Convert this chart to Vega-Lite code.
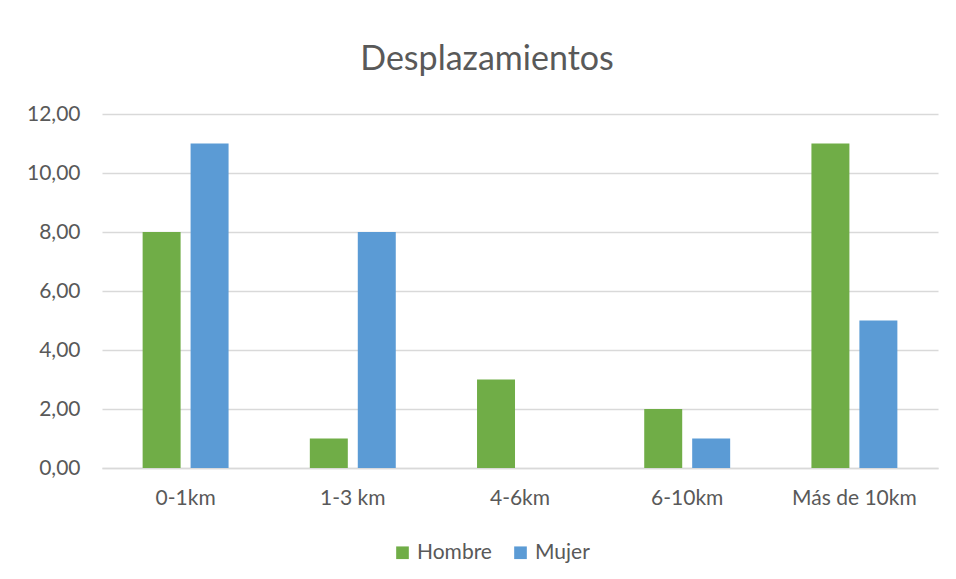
{
  "$schema": "https://vega.github.io/schema/vega-lite/v6.json",
  "width": 836,
  "height": 354,
  "autosize": {"type": "none"},
  "padding": {"left": 102, "top": 114, "right": 18, "bottom": 111},
  "background": "white",
  "config": {
    "locale": {"number": {"decimal": ",", "thousands": ".", "grouping": [3], "currency": ["", " €"]}},
    "font": "Lato",
    "view": {"stroke": null}
  },
  "title": {
    "text": "Desplazamientos",
    "fontSize": 34,
    "font": "Lato",
    "fontWeight": "normal",
    "color": "#595959",
    "anchor": "middle",
    "frame": "group",
    "dx": -33,
    "offset": 26
  },
  "data": {
    "values": [
      {"cat": "0-1km", "serie": "Hombre", "valor": 8},
      {"cat": "0-1km", "serie": "Mujer", "valor": 11},
      {"cat": "1-3 km", "serie": "Hombre", "valor": 1},
      {"cat": "1-3 km", "serie": "Mujer", "valor": 8},
      {"cat": "4-6km", "serie": "Hombre", "valor": 3},
      {"cat": "4-6km", "serie": "Mujer", "valor": 0},
      {"cat": "6-10km", "serie": "Hombre", "valor": 2},
      {"cat": "6-10km", "serie": "Mujer", "valor": 1},
      {"cat": "Más de 10km", "serie": "Hombre", "valor": 11},
      {"cat": "Más de 10km", "serie": "Mujer", "valor": 5}
    ]
  },
  "mark": {"type": "bar"},
  "encoding": {
    "x": {
      "field": "cat",
      "type": "nominal",
      "sort": ["0-1km", "1-3 km", "4-6km", "6-10km", "Más de 10km"],
      "scale": {"paddingInner": 0.486, "paddingOuter": 0.243},
      "axis": {
        "title": null,
        "labelAngle": 0,
        "labelFontSize": 21,
        "labelColor": "#595959",
        "labelPadding": 19,
        "ticks": false,
        "domainColor": "#D9D9D9",
        "domainWidth": 1.5
      }
    },
    "xOffset": {
      "field": "serie",
      "type": "nominal",
      "sort": ["Hombre", "Mujer"],
      "scale": {"paddingInner": 0.208, "paddingOuter": 0}
    },
    "y": {
      "field": "valor",
      "type": "quantitative",
      "scale": {"domain": [0, 12], "nice": false},
      "axis": {
        "title": null,
        "values": [0, 2, 4, 6, 8, 10, 12],
        "format": ".2f",
        "labelFontSize": 21,
        "labelColor": "#595959",
        "labelPadding": 22,
        "ticks": false,
        "domain": false,
        "gridColor": "#D9D9D9",
        "gridWidth": 1.5
      }
    },
    "color": {
      "field": "serie",
      "type": "nominal",
      "sort": ["Hombre", "Mujer"],
      "scale": {"domain": ["Hombre", "Mujer"], "range": ["#70AD47", "#5B9BD5"]},
      "legend": {
        "title": null,
        "orient": "none",
        "legendX": 290,
        "legendY": 428,
        "direction": "horizontal",
        "symbolType": "square",
        "symbolSize": 160,
        "symbolStrokeWidth": 0,
        "labelFontSize": 21,
        "labelColor": "#595959",
        "labelOffset": 4,
        "columnPadding": 18
      }
    }
  }
}
